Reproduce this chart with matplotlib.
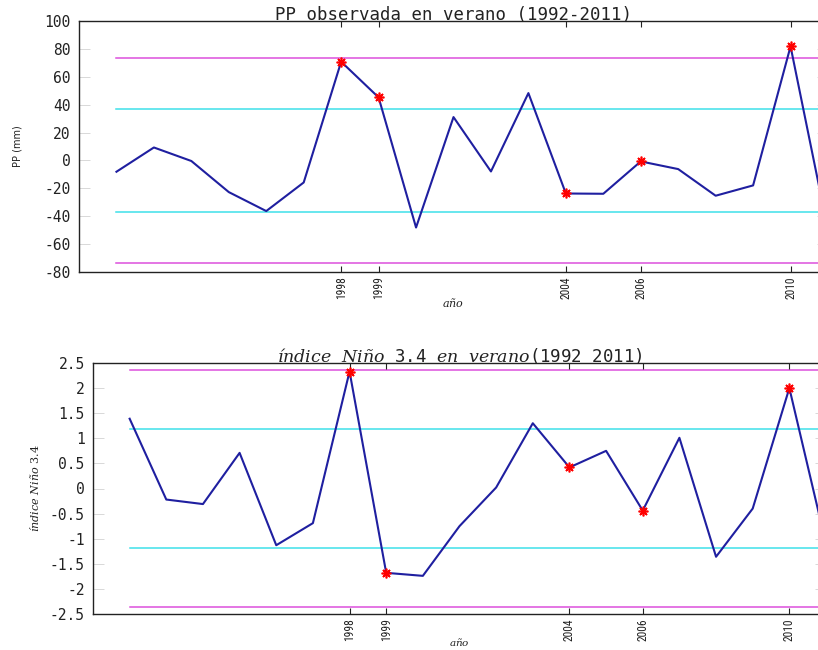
import matplotlib
matplotlib.use("Agg")
import matplotlib.pyplot as plt
from matplotlib import font_manager

# Summer series 1992-2011
years = list(range(1992, 2012))
pp_anom = [-8.1, 9.3, -0.4, -22.7, -36.3, -15.8, 70.8, 45.2, -48.1, 31.1,
           -7.9, 48.3, -23.7, -23.9, -0.7, -6.2, -25.3, -17.9, 81.8, -50.0]
nino34 = [1.39, -0.22, -0.31, 0.71, -1.13, -0.69, 2.33, -1.68, -1.74, -0.75,
          0.02, 1.30, 0.42, 0.75, -0.44, 1.01, -1.36, -0.40, 2.00, -1.10]

# Highlighted years and band widths (1 and 2 standard deviations)
event_years = [1998, 1999, 2004, 2006, 2010]
pp_std = 36.7
nino_std = 1.18

pp_yticks = list(range(-80, 101, 20))
pp_yticklabels = ["-80", "-60", "-40", "-20", "0", "20", "40", "60", "80", "100"]
nino_yticks = [-2.5, -2, -1.5, -1, -0.5, 0, 0.5, 1, 1.5, 2, 2.5]
nino_yticklabels = ["-2.5", "-2", "-1.5", "-1", "-0.5", "0", "0.5", "1", "1.5", "2", "2.5"]

plt.rcParams["mathtext.fontset"] = "dejavuserif"

# pick a narrow face for the rotated year labels if one is available
installed = {f.name for f in font_manager.fontManager.ttflist}
narrow = None
for cand in ("Liberation Sans Narrow", "DejaVu Sans Condensed", "Roboto Condensed",
             "Open Sans Condensed"):
    if cand in installed:
        narrow = cand
        break
if narrow:
    YEARFONT = dict(family=[narrow, "DejaVu Sans"], size=8.3)
else:
    YEARFONT = dict(family=["Liberation Sans", "DejaVu Sans"], size=6.5)

LINE = "#1f1fa0"
MAG = "#dd4fdd"
CYA = "#3fe0ea"
TICKFONT = dict(family=["DejaVu Sans Mono"], size=10.5)

fig = plt.figure(figsize=(8.18, 6.5), dpi=100)
ax1 = fig.add_axes([79 / 818, 1 - 272 / 650, (828 - 79) / 818, 251 / 650])
ax2 = fig.add_axes([93 / 818, 1 - 614 / 650, (826 - 93) / 818, 251 / 650])


def draw_panel(ax, values, std, ylim, yticks, yticklabels):
    x0, x1 = years[0], years[-1]
    for k, col in ((1, CYA), (2, MAG)):
        ax.plot([x0, x1], [k * std, k * std], color=col, lw=1.1, zorder=1)
        ax.plot([x0, x1], [-k * std, -k * std], color=col, lw=1.1, zorder=1)
    ax.plot(years, values, color=LINE, lw=1.5, zorder=2)
    ev = [values[years.index(y)] for y in event_years]
    # eight-armed asterisk markers on the highlighted years
    ax.plot(event_years, ev, linestyle="none", marker=(8, 2, 0), color="red",
            markersize=7, markeredgewidth=1.2, zorder=3)
    ax.set_xlim(1991, 2011)
    ax.set_ylim(*ylim)
    ax.set_xticks(event_years)
    ax.set_xticklabels([str(y) for y in event_years], rotation=90, **YEARFONT)
    ax.set_yticks(yticks)
    ax.set_yticklabels(yticklabels, **TICKFONT)
    ax.tick_params(axis="x", direction="in", length=4, width=0.8,
                   top=True, bottom=True, pad=3, colors="#222222")
    ax.tick_params(axis="y", direction="in", length=8, width=0.7,
                   left=True, right=True, pad=6, color="#d8d8d8",
                   labelcolor="#222222")
    for s in ax.spines.values():
        s.set_linewidth(1.0)
        s.set_color("#222222")


draw_panel(ax1, pp_anom, pp_std, (-80, 100), pp_yticks, pp_yticklabels)
draw_panel(ax2, nino34, nino_std, (-2.5, 2.5), nino_yticks, nino_yticklabels)

ax1.set_title("PP observada en verano (1992-2011)",
              family="DejaVu Sans Mono", size=12.5, pad=1, color="#222222")
ax1.set_ylabel("PP (mm)", size=7, labelpad=16, color="#222222")
ax1.set_xlabel(r"$\it{año}$", size=8, color="#222222", va="center")
ax1.xaxis.set_label_coords(0.5, -0.123)

ax2.set_title(r"$\it{índice\ \ Niño}$ 3.4 $\it{en\ \ verano}$(1992 2011)",
              family="DejaVu Sans Mono", size=12.5, pad=1, color="#222222")
ax2.set_ylabel(r"$\it{índice\ Niño\ 3.4}$", size=8, labelpad=6, color="#222222")
ax2.set_xlabel(r"$\it{año}$", size=7.5, color="#222222", va="center")
ax2.xaxis.set_label_coords(0.5, -0.112)

fig.savefig("out.png", dpi=100)
